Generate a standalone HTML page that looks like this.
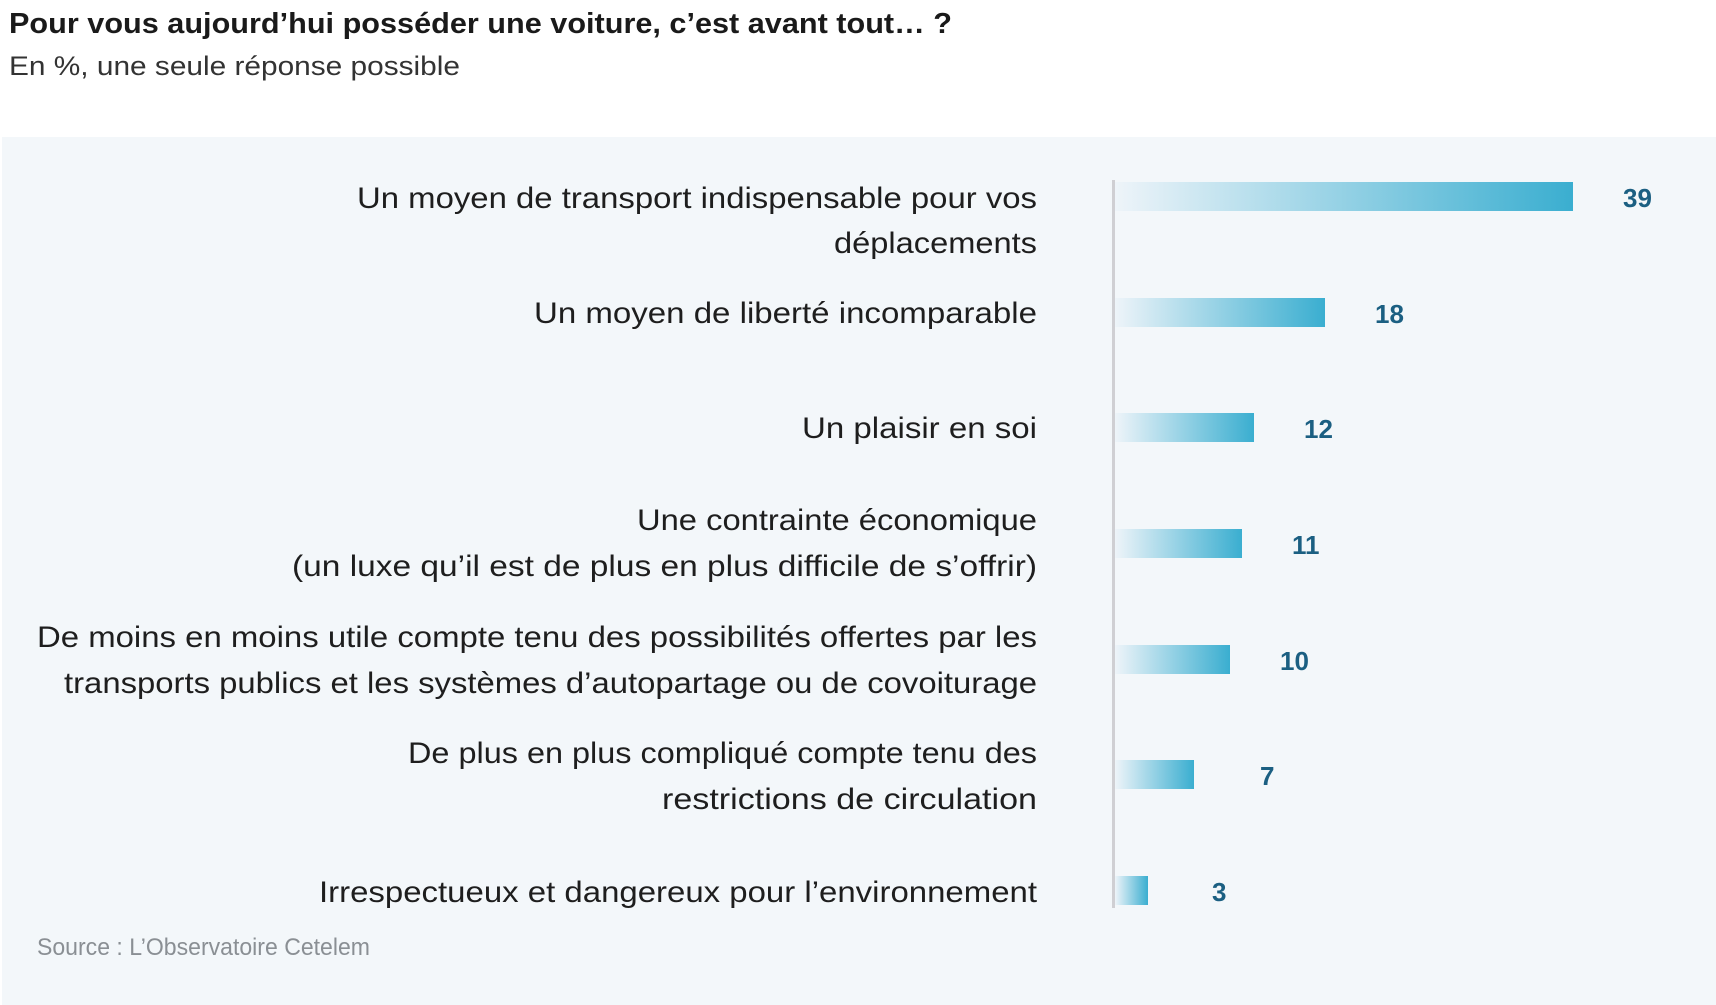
<!DOCTYPE html>
<html><head><meta charset="utf-8"><style>
html,body{margin:0;padding:0;background:#fff;}
svg{display:block;}
text{font-family:"Liberation Sans",sans-serif;}
</style></head><body>
<svg width="1716" height="1005" viewBox="0 0 1716 1005" xmlns="http://www.w3.org/2000/svg">
<defs>
<linearGradient id="g" x1="0" y1="0" x2="1" y2="0">
<stop offset="0" stop-color="#eef4f9"/>
<stop offset="1" stop-color="#3aaed0"/>
</linearGradient>
</defs>
<rect x="0" y="0" width="1716" height="1005" fill="#fff"/>
<rect x="2" y="137" width="1714" height="868" fill="#f3f7fa"/>
<text x="9" y="33" font-size="29" font-weight="bold" fill="#1a1a1a" textLength="943" lengthAdjust="spacingAndGlyphs">Pour vous aujourd’hui posséder une voiture, c’est avant tout… ?</text>
<text x="9" y="75" font-size="27" fill="#333" textLength="451" lengthAdjust="spacingAndGlyphs">En %, une seule réponse possible</text>
<rect x="1112" y="180" width="3" height="728" fill="#cfcfd3"/>
<g fill="url(#g)">
<rect x="1115" y="182" width="458" height="29"/>
<rect x="1115" y="298" width="210" height="29"/>
<rect x="1115" y="413" width="139" height="29"/>
<rect x="1115" y="529" width="127" height="29"/>
<rect x="1115" y="645" width="115" height="29"/>
<rect x="1115" y="760" width="79" height="29"/>
<rect x="1115" y="876" width="33" height="29"/>
</g>
<g font-size="26" font-weight="bold" fill="#1b5f82">
<text x="1623" y="207">39</text>
<text x="1375" y="323">18</text>
<text x="1304" y="438">12</text>
<text x="1292" y="554">11</text>
<text x="1280" y="670">10</text>
<text x="1260" y="785">7</text>
<text x="1212" y="901">3</text>
</g>
<g font-size="30" fill="#1e1e1e" text-anchor="end" lengthAdjust="spacingAndGlyphs">
<text x="1037" y="208" textLength="680" lengthAdjust="spacingAndGlyphs">Un moyen de transport indispensable pour vos</text>
<text x="1037" y="253" textLength="203" lengthAdjust="spacingAndGlyphs">déplacements</text>
<text x="1037" y="323" textLength="503" lengthAdjust="spacingAndGlyphs">Un moyen de liberté incomparable</text>
<text x="1037" y="438" textLength="235" lengthAdjust="spacingAndGlyphs">Un plaisir en soi</text>
<text x="1037" y="530" textLength="400" lengthAdjust="spacingAndGlyphs">Une contrainte économique</text>
<text x="1037" y="576" textLength="745" lengthAdjust="spacingAndGlyphs">(un luxe qu’il est de plus en plus difficile de s’offrir)</text>
<text x="1037" y="647" textLength="1000" lengthAdjust="spacingAndGlyphs">De moins en moins utile compte tenu des possibilités offertes par les</text>
<text x="1037" y="693" textLength="973" lengthAdjust="spacingAndGlyphs">transports publics et les systèmes d’autopartage ou de covoiturage</text>
<text x="1037" y="763" textLength="629" lengthAdjust="spacingAndGlyphs">De plus en plus compliqué compte tenu des</text>
<text x="1037" y="809" textLength="375" lengthAdjust="spacingAndGlyphs">restrictions de circulation</text>
<text x="1037" y="902" textLength="718" lengthAdjust="spacingAndGlyphs">Irrespectueux et dangereux pour l’environnement</text>
</g>
<text x="37" y="955" font-size="24" fill="#8a8f94" textLength="333" lengthAdjust="spacingAndGlyphs">Source : L’Observatoire Cetelem</text>
</svg>
</body></html>
